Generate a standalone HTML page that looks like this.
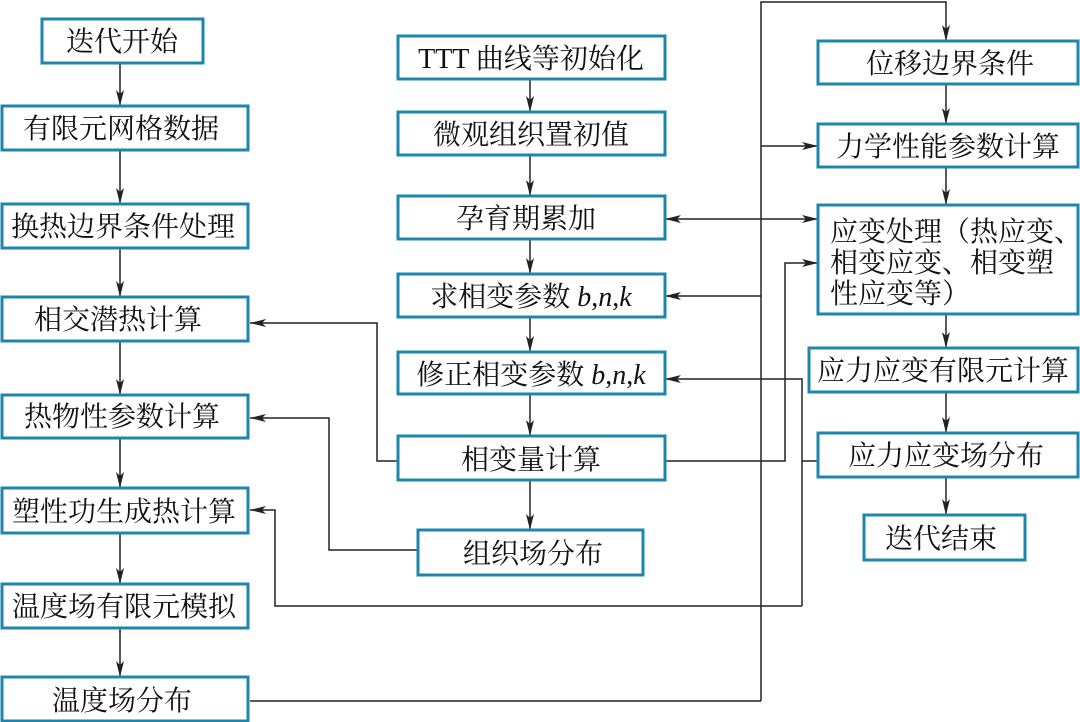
<!DOCTYPE html>
<html><head><meta charset="utf-8"><style>
html,body{margin:0;padding:0;background:#fff;}
svg{display:block;}
text{font-family:"Liberation Serif","Noto Serif CJK SC",serif;font-size:28px;fill:#111;}
.b{fill:#fff;stroke:#1e86ad;stroke-width:3;}
.l{fill:none;stroke:#222;stroke-width:1.5;}
</style></head><body>
<svg width="1080" height="722" viewBox="0 0 1080 722" xmlns="http://www.w3.org/2000/svg">
<defs>
<marker id="a" markerWidth="16" markerHeight="8" refX="16" refY="4" orient="auto" markerUnits="userSpaceOnUse">
<path d="M0,0 L16,4 L0,8 L4,4 Z" fill="#222"/></marker>
<marker id="s" markerWidth="16" markerHeight="8" refX="0" refY="4" orient="auto" markerUnits="userSpaceOnUse">
<path d="M16,0 L0,4 L16,8 L12,4 Z" fill="#222"/></marker>
</defs>

<g class="l">
<path d="M120,63 V106" marker-end="url(#a)"/>
<path d="M120,150 V204" marker-end="url(#a)"/>
<path d="M120,248 V297" marker-end="url(#a)"/>
<path d="M120,341 V395" marker-end="url(#a)"/>
<path d="M120,438 V488" marker-end="url(#a)"/>
<path d="M120,533 V584" marker-end="url(#a)"/>
<path d="M120,628 V677" marker-end="url(#a)"/>
<path d="M530,79 V112" marker-end="url(#a)"/>
<path d="M530,155 V196" marker-end="url(#a)"/>
<path d="M530,239 V274" marker-end="url(#a)"/>
<path d="M530,317 V352" marker-end="url(#a)"/>
<path d="M530,394 V436" marker-end="url(#a)"/>
<path d="M530,480 V530" marker-end="url(#a)"/>
<path d="M761,701 V2 H946 V41" marker-end="url(#a)"/>
<path d="M946,84 V124" marker-end="url(#a)"/>
<path d="M946,167 V205" marker-end="url(#a)"/>
<path d="M946,314 V348" marker-end="url(#a)"/>
<path d="M946,392 V433" marker-end="url(#a)"/>
<path d="M946,477 V515" marker-end="url(#a)"/>
<path d="M761,146 H818" marker-end="url(#a)"/>
<path d="M665,219 H818" marker-start="url(#s)" marker-end="url(#a)"/>
<path d="M761,296 H665" marker-end="url(#a)"/>
<path d="M250,701 H761"/>
<path d="M665,461 H785 V263 H818" marker-end="url(#a)"/>
<path d="M818,461 H802"/>
<path d="M802,606 V379 H665" marker-end="url(#a)"/>
<path d="M802,606 H275 V510 H250" marker-end="url(#a)"/>
<path d="M398,461 H377 V323 H250" marker-end="url(#a)"/>
<path d="M418,550 H329 V418 H250" marker-end="url(#a)"/>
</g>

<rect class="b" x="42" y="19" width="161" height="44"/><text x="122" y="51" text-anchor="middle">迭代开始</text>
<rect class="b" x="2" y="106" width="246" height="44"/><text x="121" y="138" text-anchor="middle">有限元网格数据</text>
<rect class="b" x="2" y="204" width="246" height="44"/><text x="123" y="236" text-anchor="middle">换热边界条件处理</text>
<rect class="b" x="2" y="297" width="246" height="44"/><text x="118" y="329" text-anchor="middle">相交潜热计算</text>
<rect class="b" x="2" y="395" width="246" height="43"/><text x="122" y="426" text-anchor="middle">热物性参数计算</text>
<rect class="b" x="2" y="488" width="246" height="45"/><text x="124" y="521" text-anchor="middle">塑性功生成热计算</text>
<rect class="b" x="2" y="584" width="246" height="44"/><text x="124" y="616" text-anchor="middle">温度场有限元模拟</text>
<rect class="b" x="2" y="677" width="246" height="44"/><text x="122" y="710" text-anchor="middle">温度场分布</text>

<rect class="b" x="398" y="36" width="267" height="43"/><text x="531" y="68" text-anchor="middle">TTT 曲线等初始化</text>
<rect class="b" x="398" y="112" width="267" height="43"/><text x="531" y="144" text-anchor="middle">微观组织置初值</text>
<rect class="b" x="398" y="196" width="267" height="43"/><text x="526" y="228" text-anchor="middle">孕育期累加</text>
<rect class="b" x="398" y="274" width="267" height="43"/><text x="531" y="306" text-anchor="middle">求相变参数 <tspan font-style="italic">b</tspan>,<tspan font-style="italic">n</tspan>,<tspan font-style="italic">k</tspan></text>
<rect class="b" x="398" y="352" width="267" height="42"/><text x="531" y="384" text-anchor="middle">修正相变参数 <tspan font-style="italic">b</tspan>,<tspan font-style="italic">n</tspan>,<tspan font-style="italic">k</tspan></text>
<rect class="b" x="398" y="436" width="267" height="44"/><text x="531" y="469" text-anchor="middle">相变量计算</text>
<rect class="b" x="418" y="530" width="225" height="45"/><text x="533" y="563" text-anchor="middle">组织场分布</text>

<rect class="b" x="818" y="41" width="260" height="43"/><text x="950" y="73" text-anchor="middle">位移边界条件</text>
<rect class="b" x="818" y="124" width="260" height="43"/><text x="948" y="156" text-anchor="middle">力学性能参数计算</text>
<rect class="b" x="818" y="205" width="260" height="109"/>
<text x="830" y="241">应变处理（热应变、</text>
<text x="830" y="272">相变应变、相变塑</text>
<text x="830" y="303">性应变等）</text>
<rect class="b" x="809" y="348" width="269" height="44"/><text x="943" y="380" text-anchor="middle">应力应变有限元计算</text>
<rect class="b" x="818" y="433" width="260" height="44"/><text x="946" y="465" text-anchor="middle">应力应变场分布</text>
<rect class="b" x="864" y="515" width="161" height="45"/><text x="941" y="548" text-anchor="middle">迭代结束</text>
</svg>
</body></html>
